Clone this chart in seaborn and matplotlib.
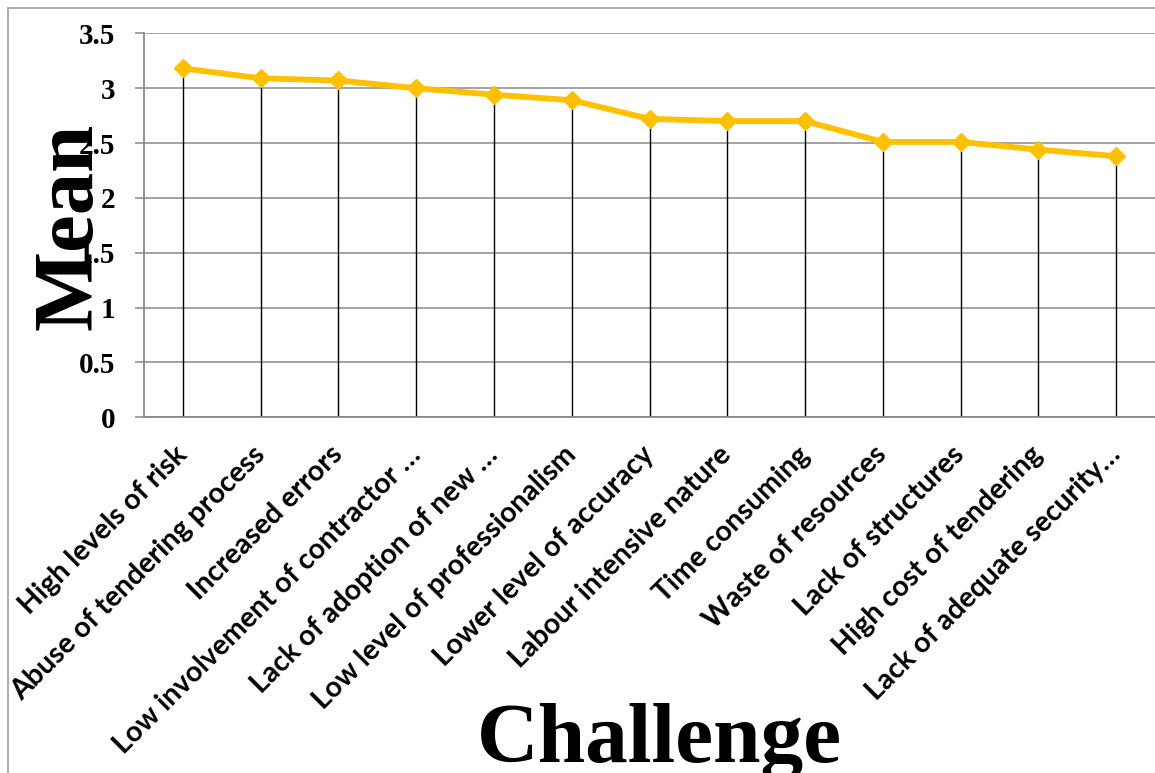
import matplotlib
matplotlib.use("Agg")
import matplotlib.pyplot as plt
from matplotlib.lines import Line2D
import seaborn as sns
import pandas as pd

challenges = [
    "High levels of risk",
    "Abuse of tendering process",
    "Increased errors",
    "Low involvement of contractor …",
    "Lack of adoption of new …",
    "Low level of professionalism",
    "Lower level of accuracy",
    "Labour intensive nature",
    "Time consuming",
    "Waste of resources",
    "Lack of structures",
    "High cost of tendering",
    "Lack of adequate security…",
]
mean_scores = [3.18, 3.09, 3.07, 3.00, 2.94, 2.89, 2.72, 2.70, 2.70, 2.51, 2.51, 2.44, 2.38]
y_ticks = [0, 0.5, 1, 1.5, 2, 2.5, 3, 3.5]
y_tick_labels = ["0", "0.5", "1", "1.5", "2", "2.5", "3", "3.5"]

df = pd.DataFrame({"Challenge": challenges, "Mean": mean_scores})

sns.set_theme(style="white")
plt.rcParams["font.family"] = ["DejaVu Sans"]
plt.rcParams["text.color"] = "black"
plt.rcParams["xtick.color"] = "black"
plt.rcParams["ytick.color"] = "black"

W, H = 1155, 773
fig = plt.figure(figsize=(W / 100, H / 100), dpi=100)
ax = fig.add_axes([144 / W, 1 - 417.3 / H, (W - 144) / W, (417.3 - 33.3) / H])

grid_col = "#8a8a8a"
gold = "#FFC000"

# drop lines from each point down to the axis
ax.vlines(range(len(mean_scores)), 0, mean_scores, color="black", lw=1.0, zorder=2)

sns.pointplot(
    data=df, x="Challenge", y="Mean", order=challenges, ax=ax,
    color=gold, markers="D", linestyles="-",
    markersize=9, linewidth=4.2, markeredgewidth=1,
    zorder=3,
)

ax.set_xlim(-0.5, len(challenges) - 0.5)
ax.set_ylim(0, 3.5)
ax.set_yticks(y_ticks)
ax.set_yticklabels(y_tick_labels, fontfamily="Liberation Serif", fontweight="bold",
                   fontsize=21, color="black")
ax.yaxis.grid(True, color=grid_col, lw=1.1, zorder=0)
ax.set_axisbelow(True)
ax.tick_params(axis="y", length=6.5, width=1.1, color=grid_col, labelcolor="black",
               pad=14, left=True)

ax.set_xticks(range(len(challenges)))
ax.set_xticklabels(challenges, rotation=45, ha="right", va="center",
                   rotation_mode="anchor", fontfamily="Lato", fontweight="bold",
                   fontsize=20.5, color="black")
ax.tick_params(axis="x", length=0, pad=24, labelcolor="black")

for side in ("top", "right"):
    ax.spines[side].set_visible(False)
for side in ("left", "bottom"):
    ax.spines[side].set_color(grid_col)
    ax.spines[side].set_linewidth(1.3)

ax.set_xlabel("")
ax.set_ylabel("")

fig.text(91.7 / W, 1 - 226.5 / H, "Mean", rotation=90, rotation_mode="anchor",
         ha="center", va="baseline", fontfamily="Liberation Serif",
         fontweight="bold", fontsize=61, color="black")
fig.text(659 / W, 1 - 762 / H, "Challenge", ha="center", va="baseline",
         fontfamily="Liberation Serif", fontweight="bold", fontsize=61.5, color="black")

# outer frame
frame_col = "#a6a6a6"
fig.add_artist(Line2D([7.5 / W, 7.5 / W], [1 - 7.5 / H, -0.05], color=frame_col, lw=1.3,
                      transform=fig.transFigure))
fig.add_artist(Line2D([7.5 / W, 1.05], [1 - 7.5 / H, 1 - 7.5 / H], color=frame_col, lw=1.3,
                      transform=fig.transFigure))

fig.savefig("out.png", dpi=100, facecolor="white")
